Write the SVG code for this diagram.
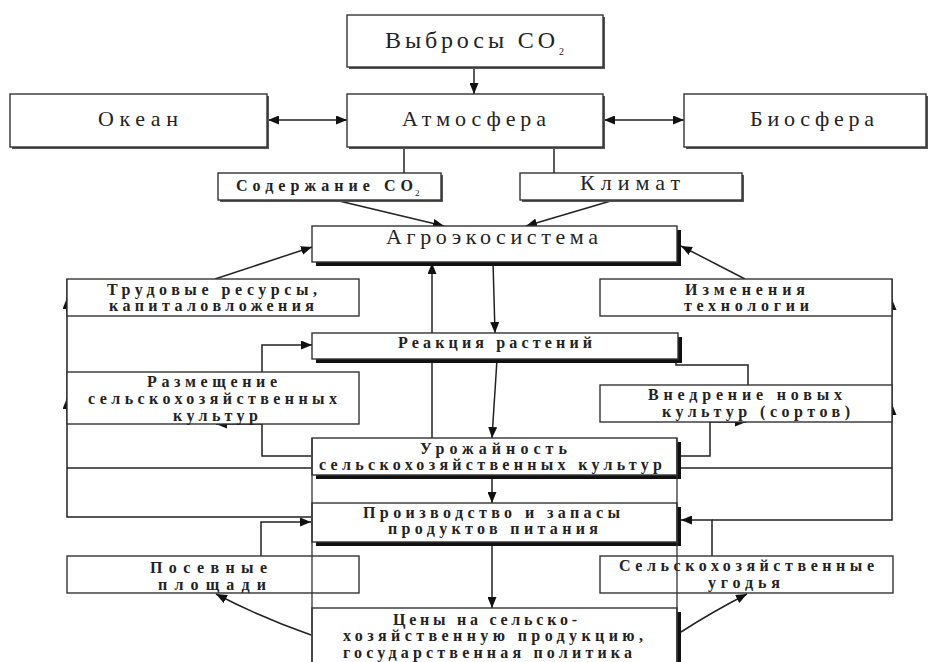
<svg xmlns="http://www.w3.org/2000/svg" width="934" height="662" viewBox="0 0 934 662" font-family="Liberation Serif, DejaVu Serif, serif">
  <style>
    .box { fill: #fff; stroke: #333; stroke-width: 1.4; }
    .sh-thin { fill: #555; }
    .sh-thick { fill: #111; }
    .ln { fill: none; stroke: #222; stroke-width: 1.5; }
    .arr { marker-end: url(#head); }
    .both { marker-start: url(#head); marker-end: url(#head); }
    text { font-family: "Liberation Serif", "DejaVu Serif", "Times New Roman", serif; fill: #222; }
    .t20 { font-size: 22px; }
    .t16b { font-size: 16px; font-weight: bold; }
    .sub { font-size: 10px; }
    .frame { fill: none; stroke: #333; stroke-width: 1.3; }
  </style>
  <defs>
    <marker id="head" markerUnits="userSpaceOnUse" markerWidth="11" markerHeight="9" refX="11" refY="4.5" orient="auto-start-reverse">
      <path d="M0,0 L11,4.5 L0,9 Z" fill="#111"/>
    </marker>
  </defs>

  <!-- connectors (drawn under the boxes) -->
  <g id="connectors">
    <path class="ln arr" d="M474,67 V94"/>
    <path class="ln both" d="M268,120 H347"/>
    <path class="ln both" d="M604,120 H684"/>
    <path class="ln" d="M404,147 V173"/>
    <path class="ln" d="M554,147 V173"/>
    <path class="ln arr" d="M335,200 L444,226"/>
    <path class="ln arr" d="M614,200 L526,226"/>
    <path class="ln arr" d="M215,279 L312,247"/>
    <path class="ln arr" d="M745,279 L681,246"/>
    <path class="ln arr" d="M493,262 L495,333"/>
    <path class="ln arr" d="M432,438 V263"/>
    <path class="ln arr" d="M497,359 L492,438"/>
    <path class="ln arr" d="M492,475 V503"/>
    <path class="ln arr" d="M492,542 V608"/>
    <!-- left feedback loop -->
    <path class="ln arr" d="M311,456 H262 V424 H216"/>
    <path class="ln arr" d="M262,372 V345 H312"/>
    <path class="ln" d="M311,468 H67"/>
    <path class="ln" d="M311,517 H67 V279"/>
    <path class="ln arr" d="M67,412 V398"/>
    <path class="ln arr" d="M67,312 V298"/>
    <path class="ln arr" d="M261,556 V522 H311"/>
    <path class="ln arr" d="M311,635 Q262,618 216,594"/>
    <!-- right feedback loop -->
    <path class="ln arr" d="M748,385 V365 H676 V348"/>
    <path class="ln arr" d="M680,456 H710 V422 H746"/>
    <path class="ln" d="M680,468 H892"/>
    <path class="ln" d="M712,520 H892 V279"/>
    <path class="ln arr" d="M892,418 V404"/>
    <path class="ln arr" d="M892,313 V299"/>
    <path class="ln arr" d="M712,556 V520 H681"/>
    <path class="ln arr" d="M681,632 Q712,612 747,594"/>
  </g>

  <g id="vybrosy">
    <rect class="sh-thin" x="349" y="17" width="256" height="52"/>
    <rect class="box" x="347" y="15" width="256" height="52"/>
    <text x="385" y="48" font-size="24" textLength="170" lengthAdjust="spacing">Выбросы CO</text>
    <text class="sub" x="559" y="55">2</text>
  </g>
  <g id="okean">
    <rect class="sh-thin" x="12" y="96" width="257" height="53"/>
    <rect class="box" x="10" y="94" width="257" height="53"/>
    <text class="t20" x="98" y="126" textLength="80" lengthAdjust="spacing">Океан</text>
  </g>
  <g id="atmosfera">
    <rect class="sh-thin" x="349" y="96" width="256" height="53"/>
    <rect class="box" x="347" y="94" width="256" height="53"/>
    <text class="t20" x="402" y="126" textLength="144" lengthAdjust="spacing">Атмосфера</text>
  </g>
  <g id="biosfera">
    <rect class="sh-thin" x="686" y="96" width="242" height="53"/>
    <rect class="box" x="684" y="94" width="242" height="53"/>
    <text class="t20" x="750" y="126" textLength="124" lengthAdjust="spacing">Биосфера</text>
  </g>
  <g id="soderzhanie">
    <rect class="sh-thin" x="220" y="175" width="223" height="27"/>
    <rect class="box" x="218" y="173" width="223" height="27"/>
    <text x="236" y="191" font-size="16" font-weight="bold" textLength="177" lengthAdjust="spacing">Содержание CO</text>
    <text x="415" y="196" font-size="9">2</text>
  </g>
  <g id="klimat">
    <rect class="sh-thin" x="522" y="175" width="222" height="27"/>
    <rect class="box" x="520" y="173" width="222" height="27"/>
    <text class="t20" x="580" y="190" textLength="100" lengthAdjust="spacing">Климат</text>
  </g>
  <g id="agroekosistema">
    <rect class="sh-thick" x="316" y="230" width="365" height="36"/>
    <rect class="box" x="312" y="226" width="365" height="36"/>
    <text class="t20" x="386" y="244" textLength="212" lengthAdjust="spacing">Агроэкосистема</text>
  </g>
  <g id="trudovye">
    <rect class="box" x="67" y="279" width="292" height="37"/>
    <text class="t16b" x="107" y="295" textLength="210" lengthAdjust="spacing">Трудовые ресурсы,</text>
    <text class="t16b" x="109" y="311" textLength="205" lengthAdjust="spacing">капиталовложения</text>
  </g>
  <g id="izmeneniya">
    <rect class="box" x="600" y="279" width="292" height="37"/>
    <text class="t16b" x="685" y="295" textLength="120" lengthAdjust="spacing">Изменения</text>
    <text class="t16b" x="684" y="311" textLength="125" lengthAdjust="spacing">технологии</text>
  </g>
  <g id="reakciya">
    <rect class="sh-thick" x="316" y="337" width="366" height="26"/>
    <rect class="box" x="312" y="333" width="366" height="26"/>
    <text class="t16b" x="398" y="348" textLength="194" lengthAdjust="spacing">Реакция растений</text>
  </g>
  <g id="razmeshchenie">
    <rect class="box" x="67" y="372" width="292" height="52"/>
    <text class="t16b" x="147" y="387" textLength="130" lengthAdjust="spacing">Размещение</text>
    <text class="t16b" x="88" y="404" textLength="249" lengthAdjust="spacing">сельскохозяйственных</text>
    <text class="t16b" x="173" y="421" textLength="85" lengthAdjust="spacing">культур</text>
  </g>
  <g id="vnedrenie">
    <rect class="box" x="600" y="385" width="292" height="37"/>
    <text class="t16b" x="648" y="400" textLength="194" lengthAdjust="spacing">Внедрение новых</text>
    <text class="t16b" x="662" y="417" textLength="188" lengthAdjust="spacing">культур  (сортов)</text>
  </g>
  <g id="urozhaynost">
    <rect class="sh-thick" x="316" y="442" width="365" height="37"/>
    <rect class="box" x="312" y="438" width="365" height="37"/>
    <text class="t16b" x="420" y="454" textLength="147" lengthAdjust="spacing">Урожайность</text>
    <text class="t16b" x="319" y="470" textLength="343" lengthAdjust="spacing">сельскохозяйственных культур</text>
  </g>
  <g id="proizvodstvo">
    <rect class="sh-thick" x="316" y="507" width="365" height="39"/>
    <rect class="box" x="312" y="503" width="365" height="39"/>
    <text class="t16b" x="363" y="518" textLength="257" lengthAdjust="spacing">Производство и запасы</text>
    <text class="t16b" x="388" y="534" textLength="210" lengthAdjust="spacing">продуктов питания</text>
  </g>
  <g id="posevnye">
    <rect class="box" x="67" y="556" width="292" height="37"/>
    <text class="t16b" x="150" y="573" textLength="117" lengthAdjust="spacing">Посевные</text>
    <text class="t16b" x="158" y="590" textLength="108" lengthAdjust="spacing">площади</text>
  </g>
  <g id="ugodya">
    <rect class="box" x="600" y="556" width="293" height="37"/>
    <text class="t16b" x="619" y="571" textLength="255" lengthAdjust="spacing">Сельскохозяйственные</text>
    <text class="t16b" x="708" y="588" textLength="72" lengthAdjust="spacing">угодья</text>
  </g>
  <g id="ceny">
    <rect class="sh-thick" x="316" y="612" width="365" height="60"/>
    <rect class="box" x="312" y="608" width="365" height="60"/>
    <text class="t16b" x="393" y="625" textLength="184" lengthAdjust="spacing">Цены на сельско-</text>
    <text class="t16b" x="343" y="641" textLength="300" lengthAdjust="spacing">хозяйственную продукцию,</text>
    <text class="t16b" x="343" y="658" textLength="289" lengthAdjust="spacing">государственная политика</text>
  </g>

  <!-- outline of the lower central column, drawn over the side boxes -->
  <g id="lower-frame">
    <path class="frame" d="M312,438 V668 M677,438 V668"/>
  </g>
</svg>
